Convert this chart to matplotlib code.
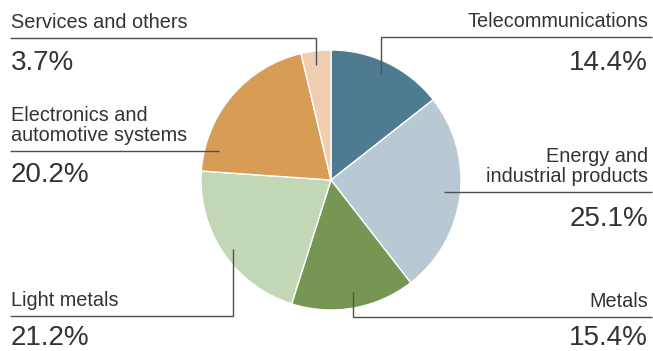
import matplotlib
matplotlib.use("Agg")
import matplotlib.pyplot as plt

categories = ["Telecommunications", "Energy and\nindustrial products", "Metals",
              "Light metals", "Electronics and\nautomotive systems", "Services and others"]
shares = [14.4, 25.1, 15.4, 21.2, 20.2, 3.7]
colors = ["#4e7a92", "#b9c9d3", "#789653", "#c1d7b5", "#d79d57", "#f0cdb1"]

W, H = 653, 351
fig = plt.figure(figsize=(W / 100, H / 100), dpi=100)
ax = fig.add_axes([0, 0, 1, 1])

cx, cy, r = 331, 180, 130
# y axis is inverted: startangle -90 points up, counterclock in data = clockwise on screen
ax.pie(shares, colors=colors, startangle=-90, counterclock=True, center=(cx, cy), radius=r,
       wedgeprops=dict(edgecolor="white", linewidth=1.0), frame=True)
ax.set_xlim(0, W)
ax.set_ylim(H, 0)
ax.set_aspect("equal")
ax.axis("off")

tc = "#333333"
lc = "#505050"
fam = ["Liberation Sans", "DejaVu Sans"]
lab_fs = 14.3
pct_fs = 20
lw = 1.0

def leader(pts):
    xs, ys = zip(*pts)
    ax.plot(xs, ys, color=lc, lw=lw, solid_capstyle="butt", solid_joinstyle="miter")

specs = [
    (0, "right", 37, 33, [(381, 74), (381, 37), (652, 37)]),
    (1, "right", 192, 34, [(444, 192), (652, 192)]),
    (2, "right", 317, 28, [(353, 292), (353, 317), (652, 317)]),
    (3, "left", 316, 29, [(233, 249), (233, 316), (10, 316)]),
    (4, "left", 151, 31, [(219, 151), (10, 151)]),
    (5, "left", 38, 32, [(316, 65), (316, 38), (10, 38)]),
]
for idx, side, ly, off, pts in specs:
    leader(pts)
    x = 648 if side == "right" else 11
    ha = "right" if side == "right" else "left"
    ax.text(x, ly - 10, categories[idx], ha=ha, va="baseline", fontsize=lab_fs,
            color=tc, family=fam, linespacing=1.05, multialignment=ha)
    ax.text(x, ly + off, f"{shares[idx]:.1f}%", ha=ha, va="baseline", fontsize=pct_fs,
            color=tc, family=fam)

fig.savefig("out.png", dpi=100)
